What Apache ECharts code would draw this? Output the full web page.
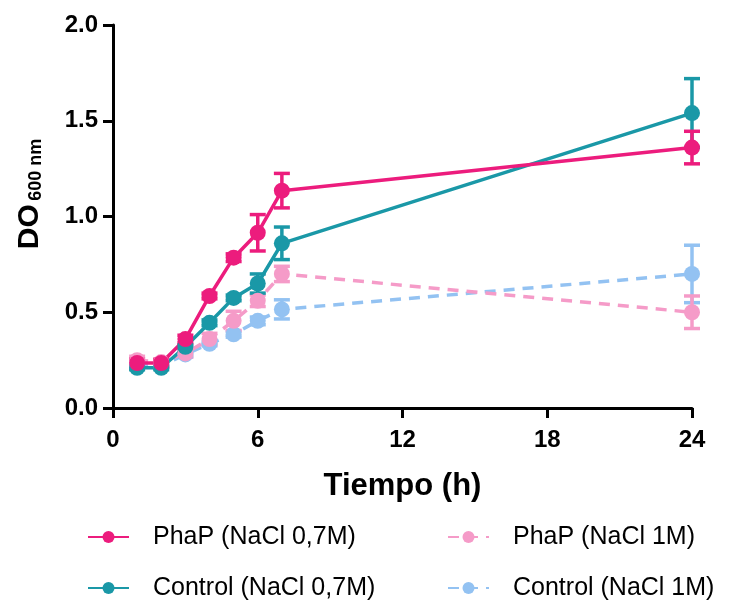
<!DOCTYPE html>
<html>
<head>
<meta charset="utf-8">
<script src="https://cdn.jsdelivr.net/npm/echarts@6/dist/echarts.min.js"></script>
<style>html,body{margin:0;padding:0;background:#fff}#c{width:731px;height:603px}</style>
</head>
<body>
<div id="c"></div>
<script>
// ---- data ----
var hours = [1, 2, 3, 4, 5, 6, 7, 24];
var phap07 = [0.235, 0.235, 0.36, 0.585, 0.785, 0.915, 1.135, 1.36];
var phap07Err = [0.02, 0.02, 0.02, 0.015, 0.02, 0.095, 0.09, 0.085];
var ctrl07 = [0.21, 0.21, 0.32, 0.445, 0.575, 0.65, 0.86, 1.54];
var ctrl07Err = [0.01, 0.01, 0.01, 0.015, 0.015, 0.05, 0.085, 0.18];
var phap1 = [0.25, 0.24, 0.285, 0.36, 0.455, 0.56, 0.70, 0.50];
var phap1Err = [0.02, 0.01, 0.02, 0.03, 0.05, 0.03, 0.04, 0.085];
var ctrl1 = [0.22, 0.22, 0.28, 0.335, 0.385, 0.455, 0.515, 0.70];
var ctrl1Err = [0.01, 0.01, 0.01, 0.01, 0.015, 0.02, 0.05, 0.15];
var xTicks = [0, 6, 12, 18, 24];
var yTicks = [0, 0.5, 1.0, 1.5, 2.0];
var names = ['PhaP (NaCl 0,7M)', 'PhaP (NaCl 1M)', 'Control (NaCl 0,7M)', 'Control (NaCl 1M)'];

var colPhap07 = '#EC1C7D', colCtrl07 = '#1A98A7', colPhap1 = '#F59BC8', colCtrl1 = '#93C2F2';
var FONT = '"Liberation Sans", Arial, sans-serif';

function pts(ys) { return hours.map(function (h, i) { return [h, ys[i]]; }); }
function errData(ys, es) { return hours.map(function (h, i) { return [h, ys[i] - es[i], ys[i] + es[i]]; }); }

function errSeries(ys, es, color) {
  return {
    type: 'custom',
    silent: true,
    data: errData(ys, es),
    encode: { x: 0, y: [1, 2] },
    renderItem: function (params, api) {
      var x = api.value(0);
      var lo = api.coord([x, api.value(1)]);
      var hi = api.coord([x, api.value(2)]);
      var w = 8;
      var st = { stroke: color, lineWidth: 3.5, fill: null };
      return {
        type: 'group',
        children: [
          { type: 'line', shape: { x1: lo[0], y1: lo[1], x2: hi[0], y2: hi[1] }, style: st },
          { type: 'line', shape: { x1: lo[0] - w, y1: lo[1], x2: lo[0] + w, y2: lo[1] }, style: st },
          { type: 'line', shape: { x1: hi[0] - w, y1: hi[1], x2: hi[0] + w, y2: hi[1] }, style: st }
        ]
      };
    }
  };
}
function lineSeries(name, ys, color, dashed) {
  return {
    type: 'line',
    name: name,
    data: pts(ys),
    symbol: 'circle',
    symbolSize: 16,
    itemStyle: { color: color },
    lineStyle: { color: color, width: 3.5, type: dashed ? [11, 8] : 'solid' },
    emphasis: { disabled: true }
  };
}
function legendAt(name, left, top) {
  return {
    data: [name],
    left: left, top: top,
    padding: 0,
    itemWidth: 41, itemHeight: 15,
    selectedMode: false,
    textStyle: { fontFamily: FONT, fontSize: 25, color: '#000', lineHeight: 28, padding: [0, 0, 0, 19] }
  };
}

var chart = echarts.init(document.getElementById('c'), null, { renderer: 'canvas' });
chart.setOption({
  animation: false,
  backgroundColor: '#fff',
  grid: { left: 113, right: 39, top: 25, bottom: 195, containLabel: false },
  xAxis: {
    type: 'value', min: xTicks[0], max: xTicks[xTicks.length - 1], interval: 6,
    name: 'Tiempo (h)', nameLocation: 'middle', nameGap: 63,
    nameTextStyle: { fontFamily: FONT, fontSize: 31, fontWeight: 'bold', color: '#000' },
    axisLine: { lineStyle: { color: '#000', width: 3 } },
    axisTick: { length: 10, lineStyle: { color: '#000', width: 3 } },
    axisLabel: { margin: 20, fontFamily: FONT, fontSize: 24, fontWeight: 'bold', color: '#000' },
    splitLine: { show: false }
  },
  yAxis: {
    type: 'value', min: yTicks[0], max: yTicks[yTicks.length - 1], interval: 0.5,
    axisLine: { show: true, lineStyle: { color: '#000', width: 3 } },
    axisTick: { show: true, length: 10, lineStyle: { color: '#000', width: 3 } },
    axisLabel: { margin: 15, fontFamily: FONT, fontSize: 24, fontWeight: 'bold', color: '#000',
      formatter: function (v) { return v.toFixed(1); } },
    splitLine: { show: false }
  },
  graphic: [{
    type: 'text',
    x: 30, y: 194,
    rotation: Math.PI / 2,
    style: {
      text: '{a|DO} {b|600 nm}',
      align: 'center', verticalAlign: 'middle',
      rich: {
        a: { fontFamily: FONT, fontSize: 30, fontWeight: 'bold', fill: '#000', lineHeight: 34 },
        b: { fontFamily: FONT, fontSize: 18, fontWeight: 'bold', fill: '#000', lineHeight: 34, padding: [12, 0, 0, 0] }
      }
    }
  }],
  legend: [
    legendAt(names[0], 87, 523),
    legendAt(names[1], 447, 523),
    legendAt(names[2], 87, 574),
    legendAt(names[3], 447, 574)
  ],
  series: [
    errSeries(ctrl1, ctrl1Err, colCtrl1),
    lineSeries(names[3], ctrl1, colCtrl1, true),
    errSeries(phap1, phap1Err, colPhap1),
    lineSeries(names[1], phap1, colPhap1, true),
    errSeries(ctrl07, ctrl07Err, colCtrl07),
    lineSeries(names[2], ctrl07, colCtrl07, false),
    errSeries(phap07, phap07Err, colPhap07),
    lineSeries(names[0], phap07, colPhap07, false)
  ]
});
</script>
</body>
</html>
